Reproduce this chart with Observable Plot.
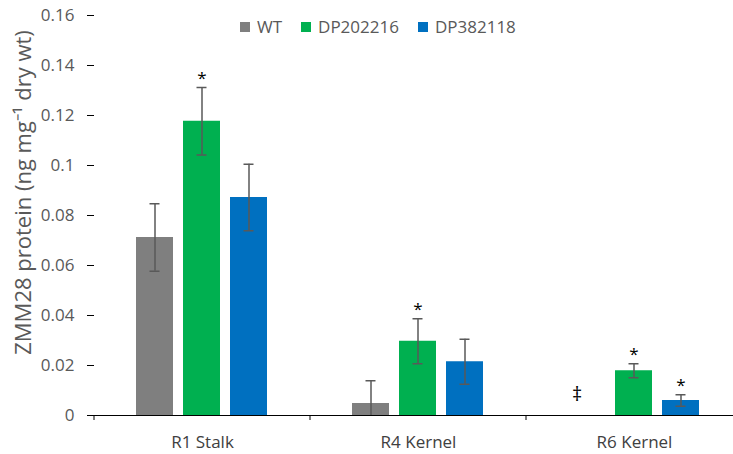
<!DOCTYPE html>
<html><head><meta charset="utf-8">
<script src="https://cdn.jsdelivr.net/npm/d3@7"></script>
<script src="https://cdn.jsdelivr.net/npm/@observablehq/plot@0.6"></script>
<style>
body{margin:0;background:#fff;overflow:hidden}
#wrap{position:relative;width:733px;height:454px;overflow:hidden}
#legend{position:absolute;left:240px;top:15px;font-family:"Open Sans";font-size:17px;color:#595959;display:flex;align-items:center;white-space:nowrap}
.item{display:inline-flex;align-items:center;margin-right:19px}
.sw{width:10px;height:10px;margin-right:7px;display:inline-block}
</style></head><body><div id="wrap"><div id="chart"></div><div id="legend"></div></div>
<script>
const categories = ["R1 Stalk", "R4 Kernel", "R6 Kernel"];
const series = ["WT", "DP202216", "DP382118"];
const seriesColors = ["#7f7f7f", "#00b050", "#0070c0"];
const wtValues = [0.0712, 0.0048, null];
const dp202216Values = [0.1177, 0.0297, 0.0179];
const dp382118Values = [0.0872, 0.0215, 0.0060];
const wtErrors = [0.0135, 0.0091, null];
const dp202216Errors = [0.0135, 0.0090, 0.0028];
const dp382118Errors = [0.0133, 0.0090, 0.0023];
const wtMarks = ["", "", "‡"];
const dp202216Marks = ["*", "*", "*"];
const dp382118Marks = ["", "", "*"];
const yTicks = [0, 0.02, 0.04, 0.06, 0.08, 0.1, 0.12, 0.14, 0.16];
const yTickLabels = ["0", "0.02", "0.04", "0.06", "0.08", "0.1", "0.12", "0.14", "0.16"];
const yLabel = "ZMM28 protein (ng mg⁻¹ dry wt)";

const valuesBySeries = [wtValues, dp202216Values, dp382118Values];
const errorsBySeries = [wtErrors, dp202216Errors, dp382118Errors];
const marksBySeries = [wtMarks, dp202216Marks, dp382118Marks];

const rows = [];
categories.forEach((c, i) => series.forEach((s, j) => rows.push({
  category: c, series: s,
  value: valuesBySeries[j][i], err: errorsBySeries[j][i], mark: marksBySeries[j][i]
})));
const withErr = rows.filter(d => d.value != null && d.err != null);
const stars = rows.filter(d => d.mark === "*");
const daggers = rows.filter(d => d.mark === "‡");

const errColor = "#595959";
const plot = Plot.plot({
  width: 733, height: 454,
  marginLeft: 94, marginRight: -9, marginTop: 15, marginBottom: 39,
  style: {fontFamily: "Open Sans", fontSize: "17px", background: "white", color: "#595959"},
  fx: {domain: categories, padding: 0, label: null},
  x: {domain: series, paddingInner: 0.21, paddingOuter: 0.879, axis: null},
  y: {domain: [0, 0.16]},
  color: {domain: series, range: seriesColors},
  marks: [
    Plot.barY(rows, {fx: "category", x: "series", y: "value", fill: "series"}),
    Plot.ruleX(withErr, {fx: "category", x: "series", y1: d => d.value - d.err, y2: d => d.value + d.err, stroke: errColor, strokeWidth: 1.5, clip: true}),
    Plot.tickY(withErr, {fx: "category", x: "series", y: d => d.value - d.err, stroke: errColor, strokeWidth: 1.5, insetLeft: 13.5, insetRight: 13.5, clip: true}),
    Plot.tickY(withErr, {fx: "category", x: "series", y: d => d.value + d.err, stroke: errColor, strokeWidth: 1.5, insetLeft: 13.5, insetRight: 13.5, clip: true}),
    Plot.ruleY([0], {stroke: "black"}),
    Plot.axisY({ticks: yTicks, tickFormat: d => yTickLabels[yTicks.indexOf(d)], tickSize: 7, tickPadding: 13, label: null, line: true, stroke: "black", fill: "#595959"}),
    Plot.axisFx({anchor: "bottom", tickSize: 0, tickPadding: 20, label: null, fill: "#404040"}),
    Plot.text(stars, {fx: "category", x: "series", y: d => d.value + d.err, text: "mark", dy: -9, fill: "black", fontSize: 17}),
    Plot.text(daggers, {fx: "category", x: "series", y: () => 0, text: "mark", dx: -10, dy: -21, fill: "black", fontSize: 20}),
    Plot.text([{category: categories[0], label: yLabel}], {fx: "category", text: "label", frameAnchor: "left", textAnchor: "middle", lineAnchor: "middle", rotate: -90, dx: -71, dy: -23, fill: "#595959", fontSize: 22})
  ]
});

// category boundary ticks below the x axis (Excel style)
const fxs = plot.scale("fx");
const y0 = plot.scale("y").apply(0);
const bounds = categories.map(c => fxs.apply(c)).concat([fxs.apply(categories[categories.length - 1]) + fxs.bandwidth]);
d3.select(plot).append("g").selectAll("line").data(bounds).join("line")
  .attr("x1", d => d).attr("x2", d => d).attr("y1", y0).attr("y2", y0 + 5)
  .attr("stroke", "black");

document.getElementById("chart").appendChild(plot);

const legend = d3.select("#legend");
series.forEach((s, j) => {
  const item = legend.append("span").attr("class", "item");
  item.append("span").attr("class", "sw").style("background", seriesColors[j]);
  item.append("span").text(s);
});
</script></body></html>
